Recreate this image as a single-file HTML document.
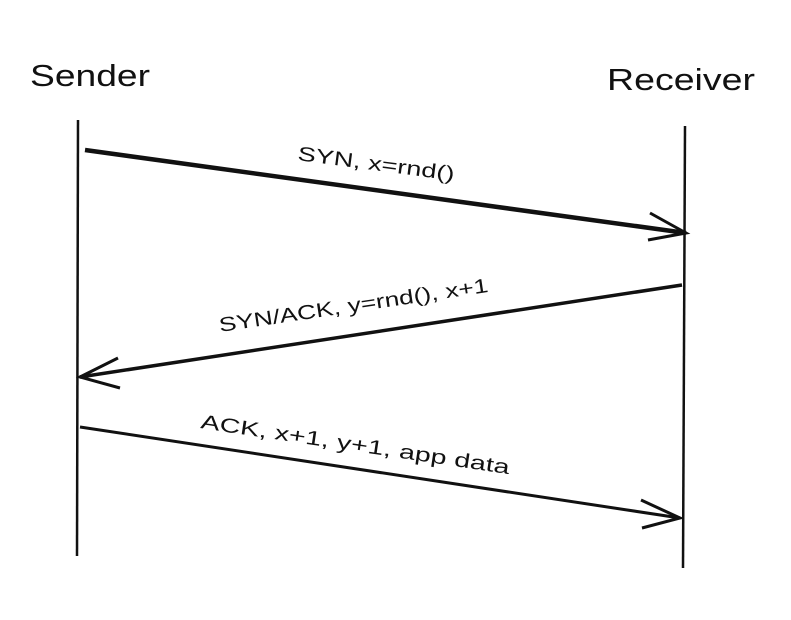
<!DOCTYPE html>
<html><head><meta charset="utf-8"><style>
html,body{margin:0;padding:0;background:#fff;width:791px;height:620px;overflow:hidden}
svg{display:block}
text{font-family:"Liberation Sans",sans-serif;fill:#111}
</style></head><body>
<svg width="791" height="620" viewBox="0 0 791 620" xmlns="http://www.w3.org/2000/svg">
<text x="30" y="86" font-size="31" textLength="120" lengthAdjust="spacingAndGlyphs">Sender</text>
<text x="607" y="90" font-size="31" textLength="148" lengthAdjust="spacingAndGlyphs">Receiver</text>
<line x1="78" y1="120" x2="77" y2="556" stroke="#111" stroke-width="2.5"/>
<line x1="685" y1="126" x2="683" y2="568" stroke="#111" stroke-width="2.5"/>
<line x1="85" y1="150" x2="686" y2="233" stroke="#111" stroke-width="4.5"/>
<polyline points="650,213 686,233 648,240" fill="none" stroke="#111" stroke-width="3"/>
<text x="0" y="0" font-size="20" textLength="158" lengthAdjust="spacingAndGlyphs" transform="translate(297,160) rotate(7.5)">SYN, x=rnd()</text>
<line x1="682" y1="285" x2="80" y2="377" stroke="#111" stroke-width="3.5"/>
<polyline points="118,358 80,377 120,388" fill="none" stroke="#111" stroke-width="3"/>
<text x="0" y="0" font-size="20" textLength="272" lengthAdjust="spacingAndGlyphs" transform="translate(220,332) rotate(-8.5)">SYN/ACK, y=rnd(), x+1</text>
<line x1="80" y1="427" x2="680" y2="518" stroke="#111" stroke-width="3"/>
<polyline points="641,500 680,518 642,528" fill="none" stroke="#111" stroke-width="3"/>
<text x="0" y="0" font-size="20" textLength="312" lengthAdjust="spacingAndGlyphs" transform="translate(200,428) rotate(8.5)">ACK, x+1, y+1, app data</text>
</svg>
</body></html>
